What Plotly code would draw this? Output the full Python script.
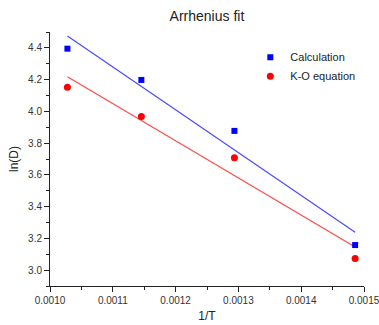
import numpy as np
import plotly.graph_objects as go

temps = [973, 873, 773, 673]
inv_T = [1.0 / t for t in temps]
calc_lnD = [4.395, 4.198, 3.877, 3.158]
ko_lnD = [4.152, 3.967, 3.708, 3.074]
x_ticks = [0.0010, 0.0011, 0.0012, 0.0013, 0.0014, 0.0015]
x_tick_labels = ["0.0010", "0.0011", "0.0012", "0.0013", "0.0014", "0.0015"]

x = np.array(inv_T)
fit_calc = np.polyfit(x, calc_lnD, 1)
fit_ko = np.polyfit(x, ko_lnD, 1)
xl = np.array([x.min(), x.max()])

fig = go.Figure()
fig.add_trace(go.Scatter(x=xl, y=np.polyval(fit_calc, xl), mode="lines",
                         line=dict(color="#4a4aff", width=1.2), showlegend=False))
fig.add_trace(go.Scatter(x=xl, y=np.polyval(fit_ko, xl), mode="lines",
                         line=dict(color="#ff4a4a", width=1.2), showlegend=False))
fig.add_trace(go.Scatter(x=inv_T, y=calc_lnD, mode="markers", name="Calculation",
                         marker=dict(symbol="square", color="#0000ff", size=6)))
fig.add_trace(go.Scatter(x=inv_T, y=ko_lnD, mode="markers", name="K-O equation",
                         marker=dict(symbol="circle", color="#ff0000", size=7)))

font = "Liberation Sans, Arial, sans-serif"
axis_common = dict(showline=True, linecolor="#222", linewidth=1, ticks="outside",
                   ticklen=5, tickcolor="#222", showgrid=False, zeroline=False,
                   tickfont=dict(size=10, color="#333", family=font), mirror=False)

fig.update_layout(
    width=379, height=325,
    margin=dict(l=50, r=15, t=32, b=39, autoexpand=False),
    paper_bgcolor="white", plot_bgcolor="white",
    title=dict(text="Arrhenius fit", x=0.546, xanchor="center", y=0.952, yanchor="middle",
               font=dict(size=14, color="#222", family=font)),
    legend=dict(x=0.638, y=0.958, xanchor="left", yanchor="top",
                font=dict(size=11, color="#222", family=font),
                bgcolor="rgba(0,0,0,0)", itemwidth=30, tracegroupgap=0),
    font=dict(family=font),
)
fig.update_xaxes(range=[0.0010, 0.0015], tickvals=x_ticks, ticktext=x_tick_labels,
                 ticklabeloverflow="allow",
                 title=dict(text="1/T", font=dict(size=12, color="#222", family=font), standoff=6),
                 minor=dict(dtick=0.00005, ticks="outside", ticklen=3, tickcolor="#222"),
                 **axis_common)
fig.update_yaxes(range=[2.9, 4.5], dtick=0.2, tickformat=".1f",
                 title=dict(text="ln(D)", font=dict(size=12, color="#222", family=font), standoff=6),
                 minor=dict(dtick=0.1, ticks="outside", ticklen=3, tickcolor="#222"),
                 **axis_common)

fig.write_html("out.html")
